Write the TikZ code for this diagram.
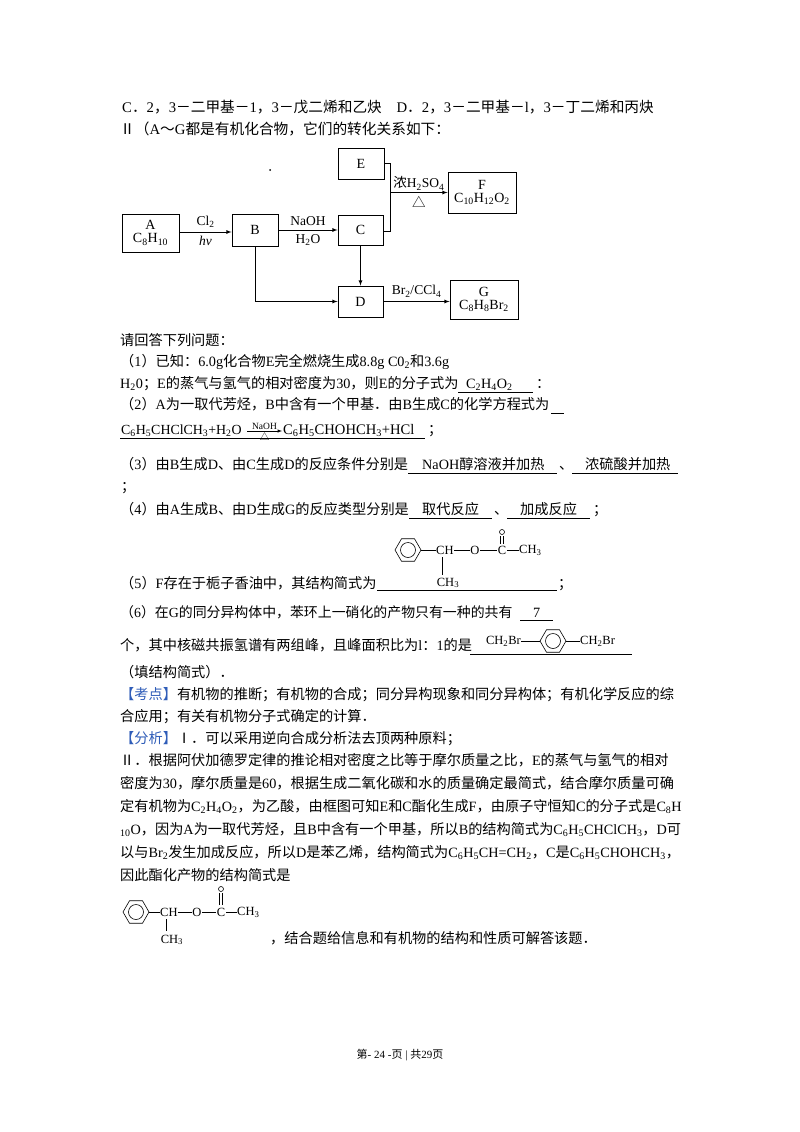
\documentclass[tikz,border=0pt]{standalone}
\usepackage{fontspec}
\setmainfont{Liberation Serif}
\newfontfamily\cjk{Noto Sans CJK SC}
\XeTeXinterchartokenstate=1
\newXeTeXintercharclass\CJKc
\count255="3000 \loop \XeTeXcharclass\count255=\CJKc \ifnum\count255<"9FFF \advance\count255 by1 \repeat
\count255="FF00 \loop \XeTeXcharclass\count255=\CJKc \ifnum\count255<"FFEF \advance\count255 by1 \repeat
\count255="2160 \loop \XeTeXcharclass\count255=\CJKc \ifnum\count255<"216F \advance\count255 by1 \repeat
\XeTeXcharclass"25B3=\CJKc
\XeTeXinterchartoks 0 \CJKc = {\cjk}
\XeTeXinterchartoks 4095 \CJKc = {\cjk}
\XeTeXinterchartoks \CJKc 0 = {\rmfamily}
\XeTeXinterchartoks \CJKc 4095 = {\rmfamily}
\newcommand{\ssb}[1]{\textsubscript{#1}}
\definecolor{kd}{HTML}{2E5CB8}
\begin{document}
\begin{tikzpicture}[x=1pt,y=-1pt,
  txt/.style={anchor=base west,inner sep=0pt,font=\fontsize{14.2}{16}\selectfont},
  qt/.style={anchor=base west,inner sep=0pt,font=\fontsize{14.2}{16}\selectfont},
  sm/.style={inner sep=0pt,font=\fontsize{12.5}{13}\selectfont},
  lab/.style={inner sep=0pt,font=\fontsize{13.5}{14}\selectfont},
  box/.style={draw,line width=0.9pt,inner sep=0pt,font=\fontsize{14}{16}\selectfont,align=center},
  arr/.style={-latex,line width=0.8pt},
  bond/.style={line width=0.6pt},
  ul/.style={line width=0.6pt}]
\useasboundingbox (0,0) rectangle (800,1132);
\fill[white] (0,0) rectangle (800,1132);

\node[txt,font=\fontsize{14.7}{16}\selectfont] (l1) at (122,112) {C．2，3－二甲基－1，3－戊二烯和乙炔\quad D．2，3－二甲基－l，3－丁二烯和丙炔};
\node[txt,font=\fontsize{14.7}{16}\selectfont] (l2) at (120,134) {Ⅱ（A～G都是有机化合物，它们的转化关系如下：};

% diagram
\node[box,minimum width=57pt,minimum height=38pt] (A) at (150.5,233) {A\\[-3pt]C\ssb{8}H\ssb{10}};
\node[box,minimum width=46pt,minimum height=32pt] (B) at (255,230) {B};
\node[box,minimum width=45pt,minimum height=30pt] (C) at (360.5,230) {C};
\node[box,minimum width=46pt,minimum height=31pt] (E) at (361,163.5) {E};
\node[box,minimum width=68pt,minimum height=41pt] (F) at (482,192.5) {F\\[-3pt]C\ssb{10}H\ssb{12}O\ssb{2}};
\node[box,minimum width=45pt,minimum height=31pt] (D) at (360.5,301.5) {D};
\node[box,minimum width=68pt,minimum height=39pt] (G) at (484,299.5) {G\\[-3pt]C\ssb{8}H\ssb{8}Br\ssb{2}};
\fill (270,170) circle (1pt);
\coordinate (J1) at (390,163.5);
\coordinate (J2) at (390,231);
\coordinate (J3) at (390,192.5);
\coordinate (BD) at (255,301.5);
\draw[arr] (A.east|-0,232) -- node[lab,above=4pt]{Cl\ssb{2}} node[lab,below=4pt]{\itshape hν} (B.west|-0,232);
\draw[arr] (B) -- node[lab,above=4pt]{NaOH} node[lab,below=4pt]{H\ssb{2}O} (C);
\draw[line width=0.8pt] (E.east) -- (J1) -- (J2) -- (C.east|-J2);
\draw[arr] (J3) -- node[lab,above=2pt]{浓H\ssb{2}SO\ssb{4}} node[lab,below=3pt]{△} (F.west|-J3);
\draw[arr] (C) -- (D);
\draw[arr] (B) -- (BD) -- (D);
\draw[arr] (D) -- node[lab,above=4pt]{Br\ssb{2}/CCl\ssb{4}} (G.west|-D);

% questions
\node[qt] (q0) at (120,345) {请回答下列问题：};
\node[qt] (q1) at (120,366) {（1）已知：6.0g化合物E完全燃烧生成8.8g C0\ssb{2}和3.6g};
\node[qt] (q1b) at (120,388) {H\ssb{2}0；E的蒸气与氢气的相对密度为30，则E的分子式为};
\node[qt] (q1a) at (466,388) {C\ssb{2}H\ssb{4}O\ssb{2}};
\node[qt] (q1c) at (536,388) {：};
\draw[ul] (458,392) -- (533,392);
\node[qt] (q2) at (120,409) {（2）A为一取代芳烃，B中含有一个甲基．由B生成C的化学方程式为};
\draw[ul] (551,413) -- (564,413);
\node[qt,font=\fontsize{13.9}{15}\selectfont] (q2b) at (121,434) {C\ssb{6}H\ssb{5}CHClCH\ssb{3}+H\ssb{2}O};
\coordinate (ar1) at (247,431);
\coordinate (ar2) at (282,431);
\draw[-latex,line width=0.5pt] (ar1) -- node[sm,above=1pt,font=\fontsize{9.5}{10}\selectfont] (cond1) {NaOH} node[sm,below=1.5pt,font=\fontsize{9.5}{10}\selectfont] (cond2) {△} (ar2);
\node[qt,font=\fontsize{14.6}{15}\selectfont] (q2c) at (283,434) {C\ssb{6}H\ssb{5}CHOHCH\ssb{3}+HCl};
\node[qt] (q2d) at (428,434) {；};
\draw[ul] (120,438) -- (425,438);
\node[qt] (q3) at (120,469) {（3）由B生成D、由C生成D的反应条件分别是};
\node[qt] (q3a) at (422,469) {NaOH醇溶液并加热};
\node[qt] (q3c) at (559,469) {、};
\node[qt] (q3d) at (585,469) {浓硫酸并加热};
\draw[ul] (408,473) -- (557,473);
\draw[ul] (572,473) -- (678,473);
\node[qt] (q3b) at (121,491) {；};
\node[qt] (q4) at (120,514) {（4）由A生成B、由D生成G的反应类型分别是};
\node[qt] (q4a) at (422,514) {取代反应};
\node[qt] (q4c) at (494,514) {、};
\node[qt] (q4d) at (520,514) {加成反应};
\node[qt] (q4e) at (593,514) {；};
\draw[ul] (409,518) -- (492,518);
\draw[ul] (507,518) -- (590,518);

% structure 1
\draw[bond] (408,550) +(0:13) -- +(60:13) -- +(120:13) -- +(180:13) -- +(240:13) -- +(300:13) -- cycle;
\draw[bond] (408,550) circle (7.5);
\draw[bond] (421,550) -- (436,550);
\node[sm,anchor=west] (s1ch) at (436,550) {CH};
\draw[bond] (s1ch.east) -- (470,550);
\node[sm] (s1o) at (475,550) {O};
\draw[bond] (480,550) -- (497,550);
\node[sm] (s1c) at (502,550) {C};
\draw[bond] (507,550) -- (519,550);
\node[sm,anchor=west] (s1ch3) at (519,550) {CH\ssb{3}};
\draw[bond] (500.5,544) -- (500.5,536) (503.5,544) -- (503.5,536);
\draw[bond] (502,532) circle (2.5);
\draw[bond] (442,557) -- (442,575);
\node[sm,anchor=base] (s1m) at (448,586) {CH\ssb{3}};
\node[qt] (q5) at (120,588) {（5）F存在于栀子香油中，其结构简式为};
\draw[ul] (377,590) -- (557,590);
\node[qt] (q5b) at (558,588) {；};
\node[qt,font=\fontsize{13.9}{16}\selectfont] (q6) at (120,617) {（6）在G的同分异构体中，苯环上一硝化的产物只有一种的共有};
\node[qt] (q6n) at (533,617) {7};
\draw[ul] (520,620) -- (553,620);
\node[qt] (q6b) at (120,650) {个，其中核磁共振氢谱有两组峰，且峰面积比为l：1的是};
\draw[ul] (470,654) -- (632,654);
\node[sm,anchor=east] (br1) at (521,641) {CH\ssb{2}Br};
\draw[bond] (521,641) -- (540,641);
\draw[bond] (553,641) +(0:13) -- +(60:13) -- +(120:13) -- +(180:13) -- +(240:13) -- +(300:13) -- cycle;
\draw[bond] (553,641) circle (7.5);
\draw[bond] (566,641) -- (580,641);
\node[sm,anchor=west] (br2) at (580,641) {CH\ssb{2}Br};
\node[qt] (q6c) at (120,677) {（填结构简式）．};

\node[txt] (k1) at (120,699) {\textcolor{kd}{【考点】}有机物的推断；有机物的合成；同分异构现象和同分异构体；有机化学反应的综};
\node[txt] (k2) at (120,721) {合应用；有关有机物分子式确定的计算．};
\node[txt] (a1) at (120,743) {\textcolor{kd}{【分析】}Ⅰ．可以采用逆向合成分析法去顶两种原料；};
\node[txt] (a2) at (120,765) {Ⅱ．根据阿伏加德罗定律的推论相对密度之比等于摩尔质量之比，E的蒸气与氢气的相对};
\node[txt] (a3) at (120,788) {密度为30，摩尔质量是60，根据生成二氧化碳和水的质量确定最简式，结合摩尔质量可确};
\node[txt] (a4) at (120,811) {定有机物为C\ssb{2}H\ssb{4}O\ssb{2}，为乙酸，由框图可知E和C酯化生成F，由原子守恒知C的分子式是C\ssb{8}H};
\node[txt] (a5) at (120,834) {\ssb{10}O，因为A为一取代芳烃，且B中含有一个甲基，所以B的结构简式为C\ssb{6}H\ssb{5}CHClCH\ssb{3}，D可};
\node[txt] (a6) at (120,857) {以与Br\ssb{2}发生加成反应，所以D是苯乙烯，结构简式为C\ssb{6}H\ssb{5}CH=CH\ssb{2}，C是C\ssb{6}H\ssb{5}CHOHCH\ssb{3}，};
\node[txt] (a7) at (120,880) {因此酯化产物的结构简式是};

% structure 2
\draw[bond] (136,912) +(0:13) -- +(60:13) -- +(120:13) -- +(180:13) -- +(240:13) -- +(300:13) -- cycle;
\draw[bond] (136,912) circle (7.5);
\draw[bond] (149,912) -- (160,912);
\node[sm,anchor=west] (s2ch) at (160,912) {CH};
\draw[bond] (s2ch.east) -- (192,912);
\node[sm] (s2o) at (197,912) {O};
\draw[bond] (202,912) -- (216,912);
\node[sm] (s2c) at (221,912) {C};
\draw[bond] (226,912) -- (237,912);
\node[sm,anchor=west] (s2ch3) at (237,912) {CH\ssb{3}};
\draw[bond] (219.5,905) -- (219.5,893) (222.5,905) -- (222.5,893);
\draw[bond] (221,889) circle (2.5);
\draw[bond] (166,919) -- (166,931);
\node[sm,anchor=base] (s2m) at (172,943) {CH\ssb{3}};
\node[txt] (a8) at (270,943) {，结合题给信息和有机物的结构和性质可解答该题．};

\node[inner sep=0pt,font=\fontsize{11}{12}\selectfont] (foot) at (400,1055) {第- 24 -页 | 共29页};
\end{tikzpicture}
\end{document}
